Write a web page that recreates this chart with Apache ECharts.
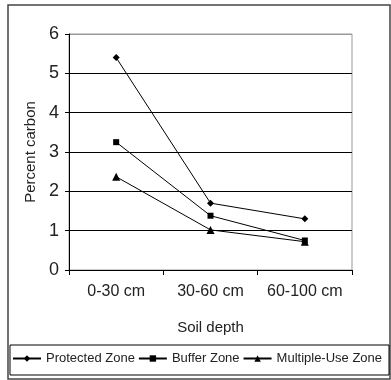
<!DOCTYPE html>
<html>
<head>
<meta charset="utf-8">
<script src="https://cdn.jsdelivr.net/npm/echarts@6/dist/echarts.min.js"></script>
<style>
  html, body { margin: 0; padding: 0; background: #fff; }
  #chart { width: 391px; height: 380px; }
</style>
</head>
<body>
<div id="chart"></div>
<script>
var depths = ['0-30 cm', '30-60 cm', '60-100 cm'];
var protectedZone = [5.4, 1.7, 1.3];
var bufferZone = [3.25, 1.38, 0.75];
var multipleUseZone = [2.37, 1.02, 0.72];

var myChart = echarts.init(document.getElementById('chart'));
var font = '"Liberation Sans", Arial, sans-serif';

function lineSeries(name, data, symbol, size) {
  return {
    name: name,
    type: 'line',
    data: data,
    symbol: symbol,
    symbolSize: size,
    itemStyle: { color: '#000' },
    lineStyle: { color: '#000', width: 1 },
    animation: false
  };
}

myChart.setOption({
  backgroundColor: '#fff',
  textStyle: { fontFamily: font },
  grid: { left: 69, right: 39, top: 34, bottom: 110, show: true, borderColor: '#999', borderWidth: 1 },
  graphic: [{
    type: 'rect',
    shape: { x: 8, y: 5, width: 382, height: 374 },
    style: { fill: 'none', stroke: '#444', lineWidth: 1.5 },
    silent: true
  }, {
    type: 'rect',
    shape: { x: 10, y: 345, width: 379, height: 30 },
    style: { fill: 'none', stroke: '#000', lineWidth: 1 },
    silent: true
  }],
  xAxis: {
    type: 'category',
    data: depths,
    name: 'Soil depth',
    nameLocation: 'middle',
    nameGap: 50,
    nameTextStyle: { fontSize: 15, color: '#222' },
    axisLine: { lineStyle: { color: '#000' } },
    axisTick: { show: true, length: 5, lineStyle: { color: '#000' } },
    axisLabel: { fontSize: 16, color: '#222', margin: 14, interval: 0 }
  },
  yAxis: {
    type: 'value',
    min: 0,
    max: 6,
    interval: 1,
    name: 'Percent carbon',
    nameLocation: 'middle',
    nameGap: 30,
    nameTextStyle: { fontSize: 15, color: '#222' },
    axisLine: { show: true, lineStyle: { color: '#000' } },
    axisTick: { show: true, length: 4, lineStyle: { color: '#000' } },
    axisLabel: { fontSize: 18, color: '#222', margin: 10 },
    splitLine: { lineStyle: { color: ['#000', '#000', '#000', '#000', '#000', '#000', '#999'], width: 1 } }
  },
  legend: {
    top: 352,
    left: 12,
    right: 2,
    itemWidth: 28,
    itemHeight: 8,
    itemGap: 3,
    padding: 0,
    textStyle: { fontSize: 13, color: '#222' },
    data: ['Protected Zone', 'Buffer Zone', 'Multiple-Use Zone']
  },
  series: [
    lineSeries('Protected Zone', protectedZone, 'diamond', 7),
    lineSeries('Buffer Zone', bufferZone, 'rect', 6),
    lineSeries('Multiple-Use Zone', multipleUseZone, 'triangle', 8)
  ]
});
</script>
</body>
</html>
